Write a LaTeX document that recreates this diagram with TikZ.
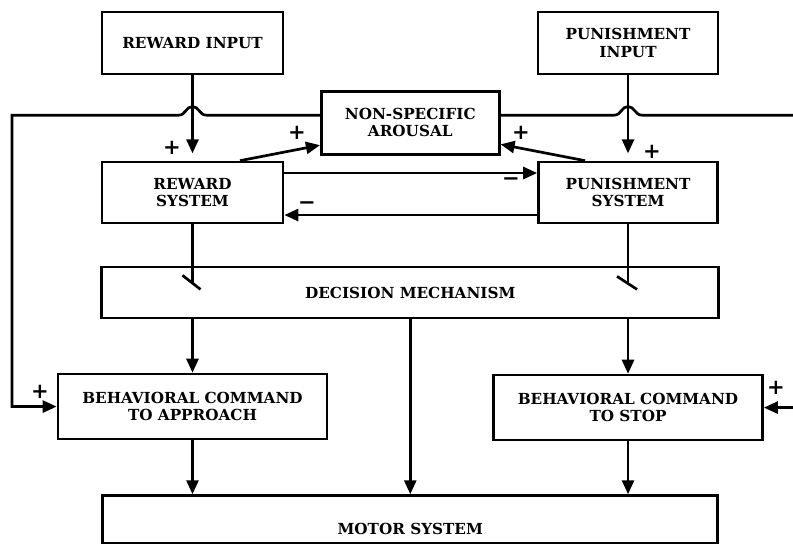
\documentclass[tikz,border=0pt]{standalone}
\usepackage{fontspec}
\setmainfont{DejaVu Serif}
\usepackage{tikz}
\usetikzlibrary{
  arrows.meta,
  calc,
  positioning
}

\begin{document}
\begin{tikzpicture}[
  wire/.style={line width=2.3pt},
  box/.style={draw, line width=2.3pt, inner sep=2pt, align=center,
              font=\fontsize{13}{14.8}\selectfont\bfseries},
  inbox/.style={box, minimum width=5.43cm, minimum height=1.86cm},
  sysbox/.style={box, minimum width=5.43cm, minimum height=1.83cm},
  cmdbox/.style={box, minimum width=8.07cm, minimum height=1.95cm},
  sign/.style={inner sep=0pt, font=\fontsize{18}{18}\selectfont\bfseries},
  arr/.style={wire, -{Triangle[length=4.2mm, width=3.6mm]}},
  node distance=0.5cm
]
\useasboundingbox (0,0) rectangle (23.79,-16.32);

% Inputs
\node[inbox] (rin) at (5.775,-1.29) {REWARD INPUT};
\node[inbox, minimum width=5.4cm, right=7.57cm of rin] (pin) {PUNISHMENT\\INPUT};

% Systems
\node[sysbox, below=2.56cm of rin] (rsys) {REWARD\\SYSTEM};
\node[sysbox, minimum width=5.37cm, below=2.56cm of pin] (psys) {PUNISHMENT\\SYSTEM};
\node[box, minimum width=5.34cm, minimum height=1.89cm,
      above=1.11cm of $(rsys)!0.5!(psys)$] (arousal) {NON-SPECIFIC\\AROUSAL};

% Decision
\node[box, minimum width=18.51cm, minimum height=1.53cm,
      below=1.24cm of $(rsys.south)!0.5!(psys.south)$] (dec) {DECISION MECHANISM};
\coordinate (decA) at (dec.south -| rsys);
\coordinate (decS) at (dec.south -| psys);

% Commands
\node[cmdbox, below=1.6cm of decA] (app) {BEHAVIORAL COMMAND\\TO APPROACH};
\node[cmdbox, below=1.63cm of decS] (stop) {BEHAVIORAL COMMAND\\TO STOP};

% Motor
\node[box, minimum width=18.45cm, inner ysep=0pt, text height=1.17cm, text depth=0.27cm,
      below=1.6cm of $(app.south)!0.5!(stop.south)$] (motor) {MOTOR SYSTEM};

% Arousal feedback lines
\coordinate (fbL) at ([yshift=0.225cm]arousal.west);
\coordinate (fbR) at ([yshift=0.225cm]arousal.east);
\coordinate (hopL) at (fbL -| rin);
\coordinate (hopR) at (fbR -| pin);
\coordinate (rimTop) at (23.79,0 |- fbR);
\coordinate (rimStop) at (23.79,0 |- stop.east);

\draw[arr] (fbL) -- ([xshift=0.42cm]hopL)
  .. controls ([xshift=0.2cm]hopL) and ([xshift=0.2cm,yshift=0.26cm]hopL) .. ([yshift=0.26cm]hopL)
  .. controls ([xshift=-0.2cm,yshift=0.26cm]hopL) and ([xshift=-0.2cm]hopL) .. ([xshift=-0.42cm]hopL)
  -- (0.36,0 |- hopL) |- (app.west);
\draw[wire] (fbR) -- ([xshift=-0.42cm]hopR)
  .. controls ([xshift=-0.2cm]hopR) and ([xshift=-0.2cm,yshift=0.26cm]hopR) .. ([yshift=0.26cm]hopR)
  .. controls ([xshift=0.2cm,yshift=0.26cm]hopR) and ([xshift=0.2cm]hopR) .. ([xshift=0.42cm]hopR)
  -- (rimTop);
\draw[arr] (rimStop) -- (stop.east);

% Inputs to systems
\draw[arr, shorten >=0.22cm] (rin) -- (rsys);
\draw[arr, shorten >=0.22cm] (pin) -- (psys);

% Systems to arousal
\draw[arr] ([xshift=1.425cm]rsys.north) -- ([yshift=-0.675cm]arousal.west);
\draw[arr] ([xshift=-1.29cm]psys.north) -- ([yshift=-0.65cm]arousal.east);

% Mutual inhibition
\draw[arr] ([yshift=0.585cm]rsys.east) -- ([yshift=0.585cm]psys.west);
\draw[arr] ([yshift=-0.675cm]psys.west) -- ([yshift=-0.675cm]rsys.east);

% Gated inputs to decision
\draw[wire] (rsys) -- ([yshift=-1.77cm]rsys.south) coordinate (rgate);
\draw[wire] ([shift={(-0.3,0.24)}]rgate) -- ([shift={(0.24,-0.18)}]rgate);
\draw[wire] (psys) -- ([yshift=-1.74cm]psys.south) coordinate (pgate);
\draw[wire] ([shift={(-0.33,0.18)}]pgate) -- ([shift={(0.27,-0.21)}]pgate);

% Decision outputs
\draw[arr] (decA) -- (app.north -| decA);
\draw[arr] (decS) -- (stop.north -| decS);
\draw[arr] (dec.south) -- (motor.north -| dec.south);

% Commands to motor
\draw[arr] (app.south -| decA) -- (motor.north -| decA);
\draw[arr] (stop.south -| decS) -- (motor.north -| decS);

% Signs
\node[sign] (plusRin) at (5.16,-4.44) {+};
\node[sign] (plusRar) at (8.91,-3.99) {+};
\node[sign] (plusPin) at (19.56,-4.56) {+};
\node[sign] (plusPar) at (15.63,-3.99) {+};
\node[sign] (minusP) at (15.33,-5.46) {−};
\node[sign] (minusR) at (9.21,-6.18) {−};
\node[sign] (plusApp) at (1.2,-11.76) {+};
\node[sign] (plusStop) at (23.28,-11.64) {+};

\end{tikzpicture}
\end{document}
